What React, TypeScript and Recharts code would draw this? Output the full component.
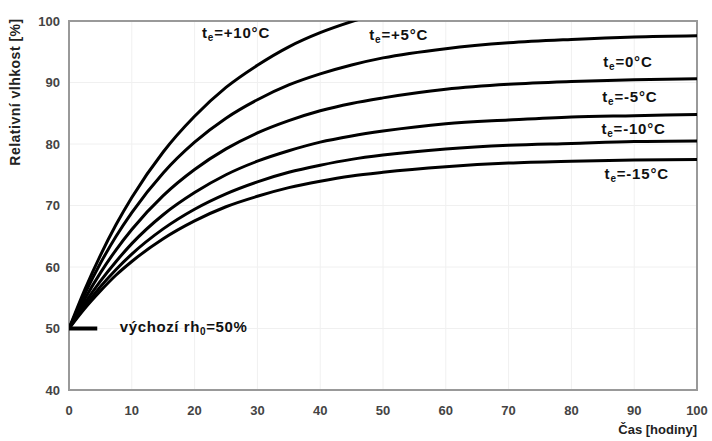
import React from "react";
import {
  LineChart,
  Line,
  XAxis,
  YAxis,
  CartesianGrid,
  ReferenceArea,
  ReferenceDot,
} from "recharts";

// time [hours]
const hours = [0, 2.5, 5, 7.5, 10, 15, 20, 25, 30, 35, 40, 45, 50, 60, 70, 80, 90, 100];

// relative humidity [%] for each outdoor temperature
const rhPlus10 = [50, 56.3, 61.9, 66.9, 71.3, 78.7, 84.5, 89.2, 92.8, 95.8, 98.1, 99.9, 101.4, null, null, null, null, null];
const rhPlus5 = [50, 55.6, 60.6, 65.0, 68.85, 75.3, 80.3, 84.2, 87.2, 89.6, 91.4, 92.85, 94.0, 95.5, 96.45, 97.0, 97.4, 97.6];
const rhZero = [50, 54.8, 59.05, 62.8, 66.1, 71.6, 75.85, 79.2, 81.8, 83.8, 85.4, 86.6, 87.5, 88.9, 89.7, 90.15, 90.45, 90.6];
const rhMinus5 = [50, 54.1, 57.7, 60.9, 63.8, 68.5, 72.1, 75.0, 77.2, 78.9, 80.3, 81.3, 82.1, 83.3, 83.9, 84.4, 84.6, 84.8];
const rhMinus10 = [50, 53.6, 56.8, 59.6, 62.1, 66.2, 69.4, 71.9, 73.85, 75.4, 76.55, 77.5, 78.2, 79.2, 79.8, 80.1, 80.4, 80.5];
const rhMinus15 = [50, 53.25, 56.1, 58.7, 60.9, 64.6, 67.5, 69.8, 71.5, 72.9, 73.95, 74.8, 75.4, 76.3, 76.9, 77.2, 77.4, 77.5];

// initial humidity marker
const startHours = [-0.4, 4.5];
const startRh = [50, 50];

const xTicks = [0, 10, 20, 30, 40, 50, 60, 70, 80, 90, 100];
const yTicks = [40, 50, 60, 70, 80, 90, 100];

// curve labels (t_e = ...)
const curveLabels: { rest: string; t: number; rh: number }[] = [
  { rest: "=+10°C", t: 26.6, rh: 98.0 },
  { rest: "=+5°C", t: 52.5, rh: 97.7 },
  { rest: "=0°C", t: 89.0, rh: 93.4 },
  { rest: "=-5°C", t: 89.3, rh: 87.6 },
  { rest: "=-10°C", t: 89.9, rh: 82.5 },
  { rest: "=-15°C", t: 90.4, rh: 75.1 },
];

const data = hours.map((t, i) => ({
  t,
  p10: rhPlus10[i],
  p5: rhPlus5[i],
  z0: rhZero[i],
  m5: rhMinus5[i],
  m10: rhMinus10[i],
  m15: rhMinus15[i],
}));

const startData = startHours.map((t, i) => ({ t, base: startRh[i] }));

const FONT = "'Liberation Sans', Arial, sans-serif";
const series = ["p10", "p5", "z0", "m5", "m10", "m15"];

export default function App() {
  return (
    <div style={{ position: "absolute", left: 0, top: 0, background: "#fff" }}>
      <LineChart
        width={712}
        height={441}
        data={data}
        margin={{ top: 21, right: 15, left: 0, bottom: 21 }}
        style={{ fontFamily: FONT }}
      >
        <CartesianGrid stroke="#f0f0f0" strokeWidth={1} />
        <XAxis
          dataKey="t"
          type="number"
          domain={[0, 100]}
          allowDataOverflow
          ticks={xTicks}
          height={30}
          tickLine={false}
          axisLine={false}
          tickMargin={10}
          tick={{ fill: "#444", fontSize: 13, fontWeight: 700, fontFamily: FONT }}
          label={{
            content: (props: any) => {
              const vb = props.viewBox;
              return (
                <text
                  x={vb.x + vb.width}
                  y={434}
                  textAnchor="end"
                  fill="#222"
                  fontSize={13}
                  fontWeight={700}
                  fontFamily={FONT}
                >
                  Čas [hodiny]
                </text>
              );
            },
          }}
        />
        <YAxis
          type="number"
          domain={[40, 100]}
          allowDataOverflow
          ticks={yTicks}
          width={69}
          tickLine={false}
          axisLine={false}
          tickMargin={3}
          tick={{ fill: "#444", fontSize: 13, fontWeight: 700, fontFamily: FONT }}
          label={{
            content: () => (
              <text
                x={0}
                y={0}
                transform="translate(20, 92) rotate(-90)"
                textAnchor="middle"
                fill="#222"
                fontSize={14}
                fontWeight={700}
                letterSpacing={0.5}
                fontFamily={FONT}
              >
                Relativní vlhkost [%]
              </text>
            ),
          }}
        />
        <ReferenceArea x1={0} x2={100} y1={40} y2={100} fill="none" stroke="#999" strokeWidth={2} />
        {series.map((k) => (
          <Line
            key={k}
            type="monotone"
            dataKey={k}
            stroke="#000"
            strokeWidth={3}
            dot={false}
            connectNulls={false}
            isAnimationActive={false}
          />
        ))}
        <Line
          data={startData}
          type="linear"
          dataKey="base"
          stroke="#000"
          strokeWidth={4}
          dot={false}
          isAnimationActive={false}
        />
        {curveLabels.map((l, i) => (
          <ReferenceDot
            key={i}
            x={l.t}
            y={l.rh}
            r={0}
            shape={(p: any) => (
              <text
                x={p.cx}
                y={p.cy + 5}
                textAnchor="middle"
                fill="#111"
                fontSize={15}
                fontWeight={700}
                letterSpacing={0.8}
                fontFamily={FONT}
              >
                t
                <tspan dy={3} fontSize={10}>
                  e
                </tspan>
                <tspan dy={-3}>{l.rest}</tspan>
              </text>
            )}
          />
        ))}
        <ReferenceDot
          x={8.1}
          y={50.2}
          r={0}
          shape={(p: any) => (
            <text
              x={p.cx}
              y={p.cy + 5}
              textAnchor="start"
              fill="#111"
              fontSize={15}
              fontWeight={700}
              letterSpacing={0.6}
              fontFamily={FONT}
            >
              výchozí rh
              <tspan dy={3} fontSize={10}>
                0
              </tspan>
              <tspan dy={-3}>=50%</tspan>
            </text>
          )}
        />
      </LineChart>
    </div>
  );
}
